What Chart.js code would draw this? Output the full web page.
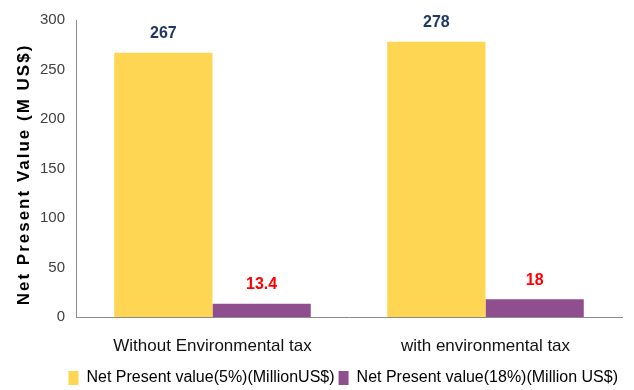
<!DOCTYPE html>
<html>
<head>
<meta charset="utf-8">
<script src="https://cdn.jsdelivr.net/npm/chart.js@4.4.1/dist/chart.umd.min.js"></script>
<style>
  html, body { margin: 0; padding: 0; background: #fff; }
  #wrap { width: 634px; height: 390px; position: relative; }
</style>
</head>
<body>
<div id="wrap"><canvas id="npvChart"></canvas></div>
<script>
// scenarios and NPV values (million US$)
var categories = ["Without Environmental tax", "with environmental tax"];
var npv5 = [267, 278];
var npv18 = [13.4, 18];
var seriesNames = ["Net Present value(5%)(MillionUS$)", "Net Present value(18%)(Million US$)"];
var yTicks = [0, 50, 100, 150, 200, 250, 300];
var yTitle = "Net Present Value (M US$)";

var fontFam = "'Liberation Sans', Arial, sans-serif";

// value labels drawn above each bar
var valueLabels = {
  id: "valueLabels",
  afterDatasetsDraw: function(chart) {
    var ctx = chart.ctx;
    var colors = ["#1f3864", "#ff0000"];
    chart.data.datasets.forEach(function(ds, i) {
      var meta = chart.getDatasetMeta(i);
      meta.data.forEach(function(bar, j) {
        ctx.save();
        ctx.fillStyle = colors[i];
        ctx.font = "bold 16px " + fontFam;
        ctx.textAlign = "center";
        ctx.textBaseline = "bottom";
        ctx.fillText(String(ds.data[j]), bar.x, bar.y - 11);
        ctx.restore();
      });
    });
  }
};

// rotated y title with wide letter spacing
var yAxisTitle = {
  id: "yAxisTitle",
  afterDraw: function(chart) {
    var ctx = chart.ctx;
    var area = chart.chartArea;
    ctx.save();
    ctx.translate(24, (area.top + area.bottom) / 2 + 6);
    ctx.rotate(-Math.PI / 2);
    ctx.font = "bold 17px " + fontFam;
    ctx.letterSpacing = "2px";
    ctx.fillStyle = "#000";
    ctx.textAlign = "center";
    ctx.textBaseline = "middle";
    ctx.fillText(yTitle, 0, 0);
    ctx.restore();
  }
};

var chart = new Chart(document.getElementById("npvChart"), {
  type: "bar",
  data: {
    labels: categories,
    datasets: [
      { label: seriesNames[0], data: npv5, backgroundColor: "#ffd653", categoryPercentage: 0.72, barPercentage: 1 },
      { label: seriesNames[1], data: npv18, backgroundColor: "#8f4f8f", categoryPercentage: 0.72, barPercentage: 1 }
    ]
  },
  options: {
    responsive: true,
    maintainAspectRatio: false,
    animation: false,
    layout: { padding: { top: 8, right: 12, left: 0, bottom: -6 } },
    plugins: {
      tooltip: { enabled: false },
      legend: {
        position: "bottom",
        align: "end",
        labels: {
          boxWidth: 10,
          boxHeight: 14,
          padding: 4,
          color: "#000",
          font: { family: fontFam, size: 16 }
        }
      }
    },
    scales: {
      x: {
        grid: { display: false, drawTicks: false },
        border: { color: "#8c8c8c", width: 1 },
        ticks: { color: "#111", padding: 19, font: { family: fontFam, size: 17 } },
        afterFit: function(axis) { axis.height = 49; }
      },
      y: {
        min: 0,
        max: 300,
        afterBuildTicks: function(axis) {
          axis.ticks = yTicks.map(function(v) { return { value: v }; });
        },
        grid: { display: false, drawTicks: false },
        border: { color: "#8c8c8c", width: 1 },
        ticks: { color: "#404040", padding: 11, font: { family: fontFam, size: 15 } },
        afterFit: function(axis) { axis.width = 76; }
      }
    }
  },
  plugins: [valueLabels, yAxisTitle]
});
</script>
</body>
</html>
